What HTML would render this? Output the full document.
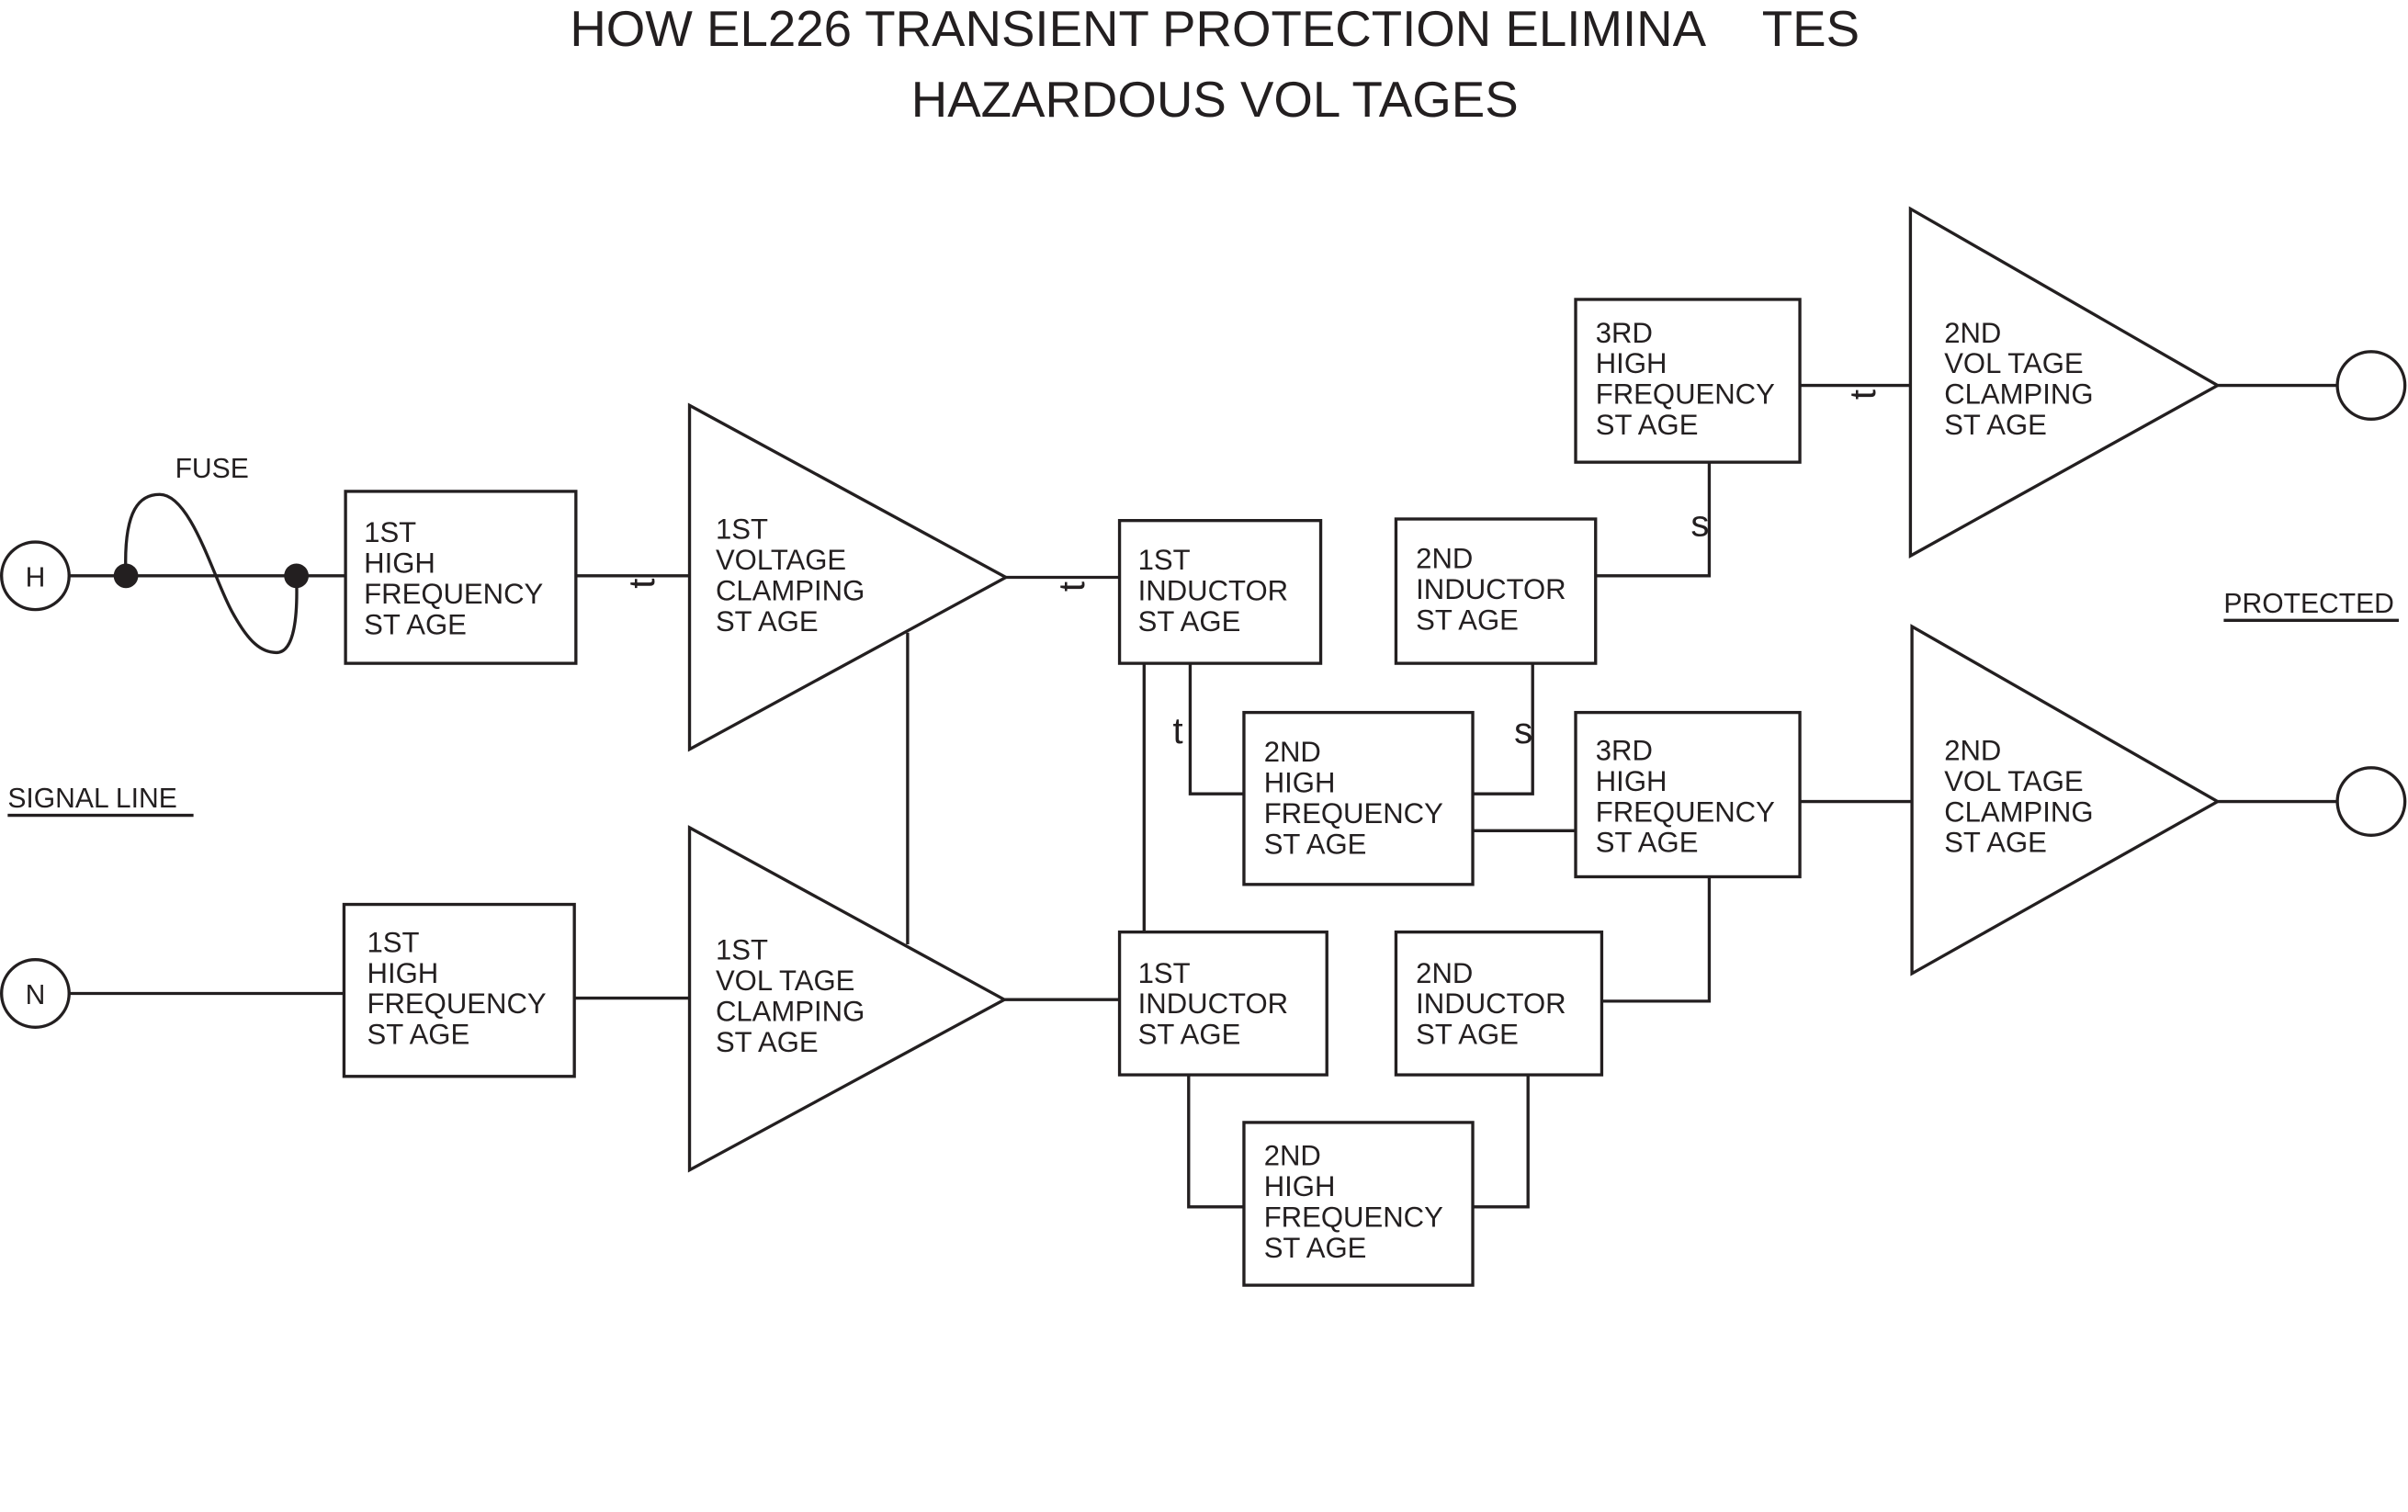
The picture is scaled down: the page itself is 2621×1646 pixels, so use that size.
<!DOCTYPE html>
<html><head><meta charset="utf-8"><style>
html,body{margin:0;padding:0;background:#fff;}
svg{display:block;}
text{font-family:"Liberation Sans",sans-serif;fill:#231f20;}
.t{font-size:18.6px;}
</style></head><body>
<svg width="2621" height="1646" viewBox="0 0 1568 984.7" xmlns="http://www.w3.org/2000/svg">
<g fill="none" stroke="#231f20" stroke-width="2">
<circle cx="23" cy="375" r="22"/>
<line x1="45" y1="375" x2="225" y2="375"/>
<path d="M82,375 C80,330 92,322 104,322 C125,322 140,380 152,400 C162,418 170,425 180,425 C192,425 194,400 193,375"/>
<rect x="225" y="320" width="150" height="112"/>
<line x1="375" y1="375" x2="449" y2="375"/>
<polygon points="449,264 449,488 655,376"/>
<line x1="655" y1="376" x2="729" y2="376"/>
<rect x="729" y="339" width="131" height="93"/>
<line x1="591" y1="412" x2="591" y2="615"/>
<line x1="745" y1="432" x2="745" y2="607"/>
<polyline points="775,432 775,517 810,517"/>
<rect x="810" y="464" width="149" height="112"/>
<polyline points="959,517 998,517 998,432"/>
<rect x="909" y="338" width="130" height="94"/>
<polyline points="1039,375 1113,375 1113,301"/>
<rect x="1026" y="195" width="146" height="106"/>
<line x1="1172" y1="251" x2="1244" y2="251"/>
<polygon points="1244,136 1244,362 1444,251"/>
<line x1="1444" y1="251" x2="1522" y2="251"/>
<circle cx="1544" cy="251" r="22"/>
<circle cx="23" cy="647" r="22"/>
<line x1="45" y1="647" x2="224" y2="647"/>
<rect x="224" y="589" width="150" height="112"/>
<line x1="374" y1="650" x2="449" y2="650"/>
<polygon points="449,539 449,762 654,651"/>
<line x1="654" y1="651" x2="729" y2="651"/>
<rect x="729" y="607" width="135" height="93"/>
<polyline points="774,700 774,786 810,786"/>
<rect x="810" y="731" width="149" height="106"/>
<polyline points="959,786 995,786 995,700"/>
<rect x="909" y="607" width="134" height="93"/>
<polyline points="1043,652 1113,652 1113,571"/>
<rect x="1026" y="464" width="146" height="107"/>
<line x1="959" y1="541" x2="1026" y2="541"/>
<line x1="1172" y1="522" x2="1245" y2="522"/>
<polygon points="1245,408 1245,634 1444,522"/>
<line x1="1444" y1="522" x2="1522" y2="522"/>
<circle cx="1544" cy="522" r="22"/>
<line x1="1448" y1="404" x2="1562" y2="404"/>
<line x1="5" y1="531" x2="126" y2="531"/>
</g>
<circle cx="82" cy="375" r="8" fill="#231f20"/>
<circle cx="193" cy="375" r="8" fill="#231f20"/>
<text x="791" y="30" font-size="32.7" text-anchor="middle">HOW EL226 TRANSIENT PROTECTION ELIMINA&#160;&#160;&#160;&#160;TES</text>
<text x="791" y="76" font-size="32.7" text-anchor="middle">HAZARDOUS VOL TAGES</text>
<text x="138" y="311" font-size="18" text-anchor="middle">FUSE</text>
<text x="23" y="382" font-size="18" text-anchor="middle">H</text>
<text x="23" y="654" font-size="18" text-anchor="middle">N</text>
<text x="5" y="526" font-size="18">SIGNAL LINE</text>
<text x="1448" y="399" font-size="18">PROTECTED</text>
<g class="t">
<text x="237" y="353">1ST</text><text x="237" y="373">HIGH</text><text x="237" y="393">FREQUENCY</text><text x="237" y="413">ST AGE</text>
<text x="466" y="351">1ST</text><text x="466" y="371">VOLTAGE</text><text x="466" y="391">CLAMPING</text><text x="466" y="411">ST AGE</text>
<text x="741" y="371">1ST</text><text x="741" y="391">INDUCTOR</text><text x="741" y="411">ST AGE</text>
<text x="922" y="370">2ND</text><text x="922" y="390">INDUCTOR</text><text x="922" y="410">ST AGE</text>
<text x="823" y="496">2ND</text><text x="823" y="516">HIGH</text><text x="823" y="536">FREQUENCY</text><text x="823" y="556">ST AGE</text>
<text x="1039" y="223">3RD</text><text x="1039" y="243">HIGH</text><text x="1039" y="263">FREQUENCY</text><text x="1039" y="283">ST AGE</text>
<text x="1266" y="223">2ND</text><text x="1266" y="243">VOL TAGE</text><text x="1266" y="263">CLAMPING</text><text x="1266" y="283">ST AGE</text>
<text x="239" y="620">1ST</text><text x="239" y="640">HIGH</text><text x="239" y="660">FREQUENCY</text><text x="239" y="680">ST AGE</text>
<text x="466" y="625">1ST</text><text x="466" y="645">VOL TAGE</text><text x="466" y="665">CLAMPING</text><text x="466" y="685">ST AGE</text>
<text x="741" y="640">1ST</text><text x="741" y="660">INDUCTOR</text><text x="741" y="680">ST AGE</text>
<text x="922" y="640">2ND</text><text x="922" y="660">INDUCTOR</text><text x="922" y="680">ST AGE</text>
<text x="823" y="759">2ND</text><text x="823" y="779">HIGH</text><text x="823" y="799">FREQUENCY</text><text x="823" y="819">ST AGE</text>
<text x="1039" y="495">3RD</text><text x="1039" y="515">HIGH</text><text x="1039" y="535">FREQUENCY</text><text x="1039" y="555">ST AGE</text>
<text x="1266" y="495">2ND</text><text x="1266" y="515">VOL TAGE</text><text x="1266" y="535">CLAMPING</text><text x="1266" y="555">ST AGE</text>
</g>
<text x="767" y="484" font-size="24" text-anchor="middle">t</text>
<text x="992" y="484" font-size="24" text-anchor="middle">s</text>
<text x="1107" y="349" font-size="24" text-anchor="middle">s</text>
<text font-size="24" text-anchor="middle" transform="translate(426,380) rotate(-90)">t</text>
<text font-size="24" text-anchor="middle" transform="translate(706,382) rotate(-90)">t</text>
<text font-size="24" text-anchor="middle" transform="translate(1221,257) rotate(-90)">t</text>
</svg>
</body></html>
